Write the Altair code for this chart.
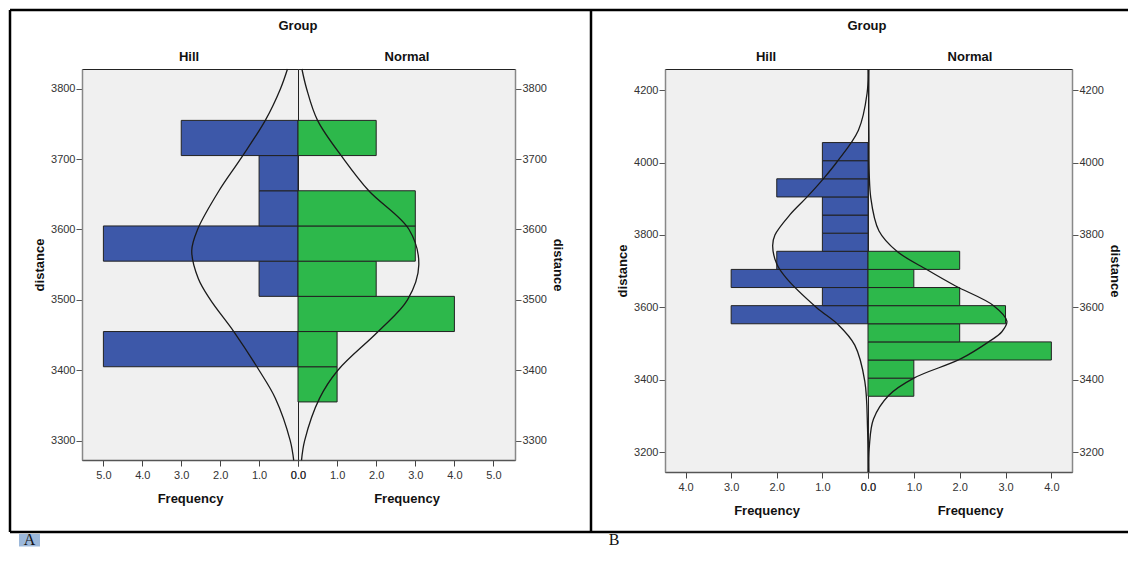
import altair as alt
import pandas as pd

# ---------------- data ----------------
# Panel A : histogram bins (distance) and frequencies
A_BIN_LO = [3355, 3405, 3455, 3505, 3555, 3605, 3655, 3705]
A_BIN_HI = [3405, 3455, 3505, 3555, 3605, 3655, 3705, 3755]
A_HILL = [0, 5, 0, 1, 5, 1, 1, 3]
A_NORMAL = [1, 1, 4, 2, 3, 3, 0, 2]

# Panel B
B_BIN_LO = [3355, 3405, 3455, 3505, 3555, 3605, 3655, 3705, 3755, 3805, 3855, 3905, 3955, 4005]
B_BIN_HI = [3405, 3455, 3505, 3555, 3605, 3655, 3705, 3755, 3805, 3855, 3905, 3955, 4005, 4055]
B_HILL = [0, 0, 0, 0, 3, 1, 3, 2, 1, 1, 1, 2, 1, 1]
B_NORMAL = [1, 1, 4, 2, 3, 2, 1, 2, 0, 0, 0, 0, 0, 0]

# fitted normal curves (distance, frequency)
A_HILL_CURVE_D = [3272, 3300, 3360, 3400, 3455, 3500, 3530, 3570, 3600, 3655, 3700, 3755, 3800, 3828]
A_HILL_CURVE_F = [0.11, 0.20, 0.58, 1.00, 1.65, 2.25, 2.56, 2.73, 2.58, 2.03, 1.48, 0.84, 0.45, 0.27]

A_NORM_CURVE_D = [3272, 3300, 3360, 3400, 3455, 3500, 3550, 3600, 3655, 3700, 3755, 3800, 3828]
A_NORM_CURVE_F = [0.09, 0.17, 0.55, 1.02, 2.05, 2.80, 3.09, 2.84, 1.81, 1.17, 0.50, 0.22, 0.10]

B_HILL_CURVE_D = [3146, 3266, 3396, 3496, 3552, 3600, 3681, 3720, 3770, 3800, 3856, 3903, 3955, 4000, 4089, 4191, 4258]
B_HILL_CURVE_F = [0.0, 0.01, 0.07, 0.29, 0.65, 1.13, 1.79, 2.00, 2.09, 2.04, 1.71, 1.35, 0.98, 0.69, 0.21, 0.02, 0.0]

B_NORM_CURVE_D = [3146, 3218, 3292, 3357, 3405, 3458, 3505, 3533, 3562, 3605, 3660, 3704, 3755, 3811, 3903, 4089, 4258]
B_NORM_CURVE_F = [0.02, 0.03, 0.12, 0.45, 1.00, 2.02, 2.63, 2.92, 3.03, 2.74, 1.90, 1.29, 0.63, 0.24, 0.06, 0.02, 0.02]

A_Y_TICKS = [3300, 3400, 3500, 3600, 3700, 3800]
B_Y_TICKS = [3200, 3400, 3600, 3800, 4000, 4200]
A_X_TICKS = [0, 1, 2, 3, 4, 5]
B_X_TICKS = [0, 1, 2, 3, 4]

# ---------------- styling ----------------
BLUE = "#3d58a9"
GREEN = "#2db84b"
FONT = "Liberation Sans"
NARROW = "Liberation Sans Narrow, Liberation Sans, Arial, sans-serif"
SERIF = "Liberation Serif, DejaVu Serif, serif"
ONE = pd.DataFrame({"k": [0]})


def hrule(x1, x2, y, w=2.5):
    return alt.Chart(ONE).mark_rule(color="black", strokeWidth=w).encode(
        x=alt.value(x1), x2=alt.value(x2), y=alt.value(y))


def vrule(x, y1, y2, w=2.5):
    return alt.Chart(ONE).mark_rule(color="black", strokeWidth=w).encode(
        x=alt.value(x), y=alt.value(y1), y2=alt.value(y2))


def label(txt, x, y, size=13, font=FONT, weight="bold", baseline="middle"):
    return alt.Chart(ONE).mark_text(
        text=txt, font=font, fontSize=size, fontWeight=weight, color="#111",
        align="center", baseline=baseline).encode(x=alt.value(x), y=alt.value(y))


def panel(lo, hi, counts, cd, cf, color, side, xmax, xticks, ydom, yticks, w, h, decor):
    bars = pd.DataFrame({"lo": lo, "hi": hi, "count": counts, "base": [0] * len(lo)})
    bars = bars[bars["count"] > 0]
    curve = pd.DataFrame({"dist": cd, "freq": cf})
    xscale = alt.Scale(domain=[0, xmax], reverse=(side == "left"), nice=False, zero=False)
    yscale = alt.Scale(domain=ydom, nice=False, zero=False)
    xaxis = alt.Axis(values=xticks, format=".1f", title="Frequency", grid=False,
                     labelFont=NARROW, labelFontSize=11, labelColor="#333",
                     labelFlush=False, labelOverlap=False,
                     tickColor="#444", tickSize=6, labelPadding=3,
                     domainColor="#555", domainWidth=1.5,
                     titleFont=FONT, titleFontSize=13, titleFontWeight="bold",
                     titleColor="#111", titlePadding=12)
    yaxis = alt.Axis(orient=side, values=yticks, format="d", title="distance", grid=False,
                     labelFont=NARROW, labelFontSize=11, labelColor="#333",
                     labelFlush=False, labelOverlap=False,
                     tickColor="#555", tickSize=6, labelPadding=1,
                     domainColor="#888", domainWidth=1.5,
                     titleFont=FONT, titleFontSize=13, titleFontWeight="bold",
                     titleColor="#111", titlePadding=4)
    b = alt.Chart(bars).mark_rect(color=color, stroke="#222", strokeWidth=1).encode(
        x=alt.X("count:Q", scale=xscale, axis=xaxis), x2="base:Q",
        y=alt.Y("lo:Q", scale=yscale, axis=yaxis), y2="hi:Q")
    c = alt.Chart(curve).mark_line(color="#1a1a1a", strokeWidth=1.3, interpolate="catmull-rom").encode(
        x=alt.X("freq:Q", scale=xscale, axis=xaxis),
        y=alt.Y("dist:Q", scale=yscale, axis=yaxis),
        order="dist:Q")
    return alt.layer(b, c, *decor).properties(
        width=w, height=h,
        view=alt.ViewBackground(fill="#f0f0f0", stroke="#222", strokeWidth=1))


TOP = -59
BOT = 463

# ---- Panel A ----
hill_a = panel(A_BIN_LO, A_BIN_HI, A_HILL, A_HILL_CURVE_D, A_HILL_CURVE_F, BLUE, "left",
               5.55, A_X_TICKS, [3272.5, 3828], A_Y_TICKS, 216, 391,
               [hrule(-72, 216, TOP), hrule(-72, 216, BOT), vrule(-72, TOP, BOT),
                alt.Chart(ONE).mark_rect(color="#9cb8da").encode(
                    x=alt.value(-63), x2=alt.value(-42), y=alt.value(465), y2=alt.value(477.5)),
                label("Hill", 107, -12), label("Group", 216, -43),
                label("A", -52.5, 476, size=16, font=SERIF, weight="normal", baseline="alphabetic")])

norm_a = panel(A_BIN_LO, A_BIN_HI, A_NORMAL, A_NORM_CURVE_D, A_NORM_CURVE_F, GREEN, "right",
               5.55, A_X_TICKS, [3272.5, 3828], A_Y_TICKS, 217, 391,
               [hrule(0, 217, TOP), hrule(0, 217, BOT), label("Normal", 109, -12)])

spacer = alt.layer(
    hrule(0, 150, TOP), hrule(0, 150, BOT), vrule(76, TOP, BOT),
    label("B", 99, 476, size=16, font=SERIF, weight="normal", baseline="alphabetic"),
).properties(width=150, height=391,
             view=alt.ViewBackground(fill="transparent", stroke="transparent"))

# ---- Panel B ----
hill_b = panel(B_BIN_LO, B_BIN_HI, B_HILL, B_HILL_CURVE_D, B_HILL_CURVE_F, BLUE, "left",
               4.45, B_X_TICKS, [3146, 4258], B_Y_TICKS, 203, 403,
               [hrule(0, 203, TOP), hrule(0, 203, BOT),
                label("Hill", 101, -12), label("Group", 202, -43)])

norm_b = panel(B_BIN_LO, B_BIN_HI, B_NORMAL, B_NORM_CURVE_D, B_NORM_CURVE_F, GREEN, "right",
               4.45, B_X_TICKS, [3146, 4258], B_Y_TICKS, 204, 403,
               [hrule(0, 260, TOP), hrule(0, 260, BOT), label("Normal", 102, -12)])

chart = alt.hconcat(hill_a, norm_a, spacer, hill_b, norm_b, spacing=0, bounds="flush").properties(
    padding=0, background="white")

chart.save("out.html", embed_options={"renderer": "svg", "actions": False})
